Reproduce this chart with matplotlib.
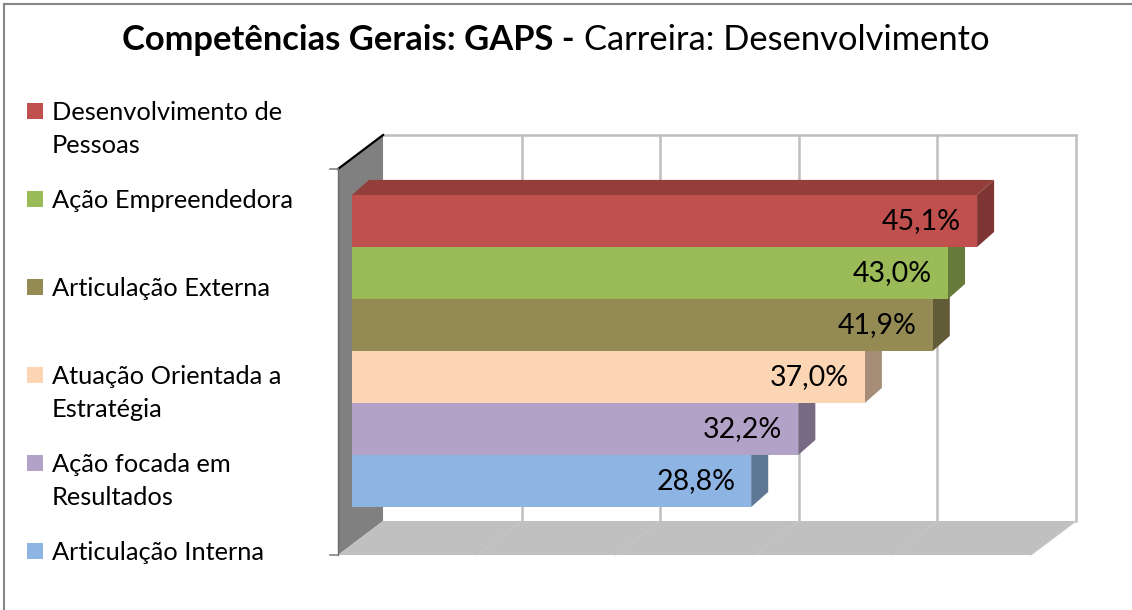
#!/usr/bin/env python3
import numpy as np
import matplotlib
matplotlib.use("Agg")
import matplotlib.pyplot as plt
from matplotlib.patches import Polygon, Rectangle
from matplotlib.colors import to_rgb

# data (legend order, top to bottom)
labels = ["Desenvolvimento de\nPessoas", "Ação Empreendedora", "Articulação Externa",
          "Atuação Orientada a\nEstratégia", "Ação focada em\nResultados", "Articulação Interna"]
values = [45.1, 43.0, 41.9, 37.0, 32.2, 28.8]
colors = ["#C0504D", "#9BBB59", "#948A54", "#FCD5B5", "#B3A2C7", "#8DB4E2"]
xmax = 50
xstep = 10

W, H = 1132, 610
plt.rcParams['font.family'] = ['Lato', 'DejaVu Sans']

fig = plt.figure(figsize=(W / 100, H / 100), dpi=100)
ax = fig.add_axes([0, 0, 1, 1])
# 1 x-unit = 1 % (13.86 px), 1 y-unit = one bar (52 px)
ax.set_xlim(-352 / 13.86, (W - 352) / 13.86)
ax.set_ylim(-(H - 507) / 52, 507 / 52)
ax.set_axis_off()

# box geometry (data units)
off0 = -1.01          # front plane offset of value 0
Dx, Dy = 3.25, 0.654  # full depth of the box
fb, ft = -0.923, 6.5  # front bottom / front top of the walls
bdx, bdy = 1.23, 0.29 # bar depth


def shade(c, f):
    return tuple(np.array(to_rgb(c)) * f)


# left wall
ax.add_patch(Polygon([(off0, fb), (off0, ft), (off0 + Dx, ft + Dy), (off0 + Dx, fb + Dy)],
                     closed=True, fc="#808080", ec="none", zorder=1))
ax.plot([off0, off0 + Dx], [ft, ft + Dy], color="black", lw=1.6, zorder=1.2)
ax.plot([off0, off0], [fb, ft], color="#6b6b6b", lw=1, zorder=1.2)
for yy in (fb, ft):
    ax.plot([off0 - 0.6, off0], [yy, yy], color="#868686", lw=1.2, zorder=1.2)

# floor
ax.add_patch(Polygon([(off0, fb), (off0 + Dx, fb + Dy), (xmax + off0 + Dx, fb + Dy), (xmax + off0, fb)],
                     closed=True, fc="#C0C0C0", ec="none", zorder=1))

# back wall gridlines
for v in np.arange(xstep, xmax + 1, xstep):
    ax.plot([v + off0 + Dx] * 2, [fb + Dy, ft + Dy], color="#BFBFBF", lw=1.8, zorder=0.8)
    ax.plot([v + off0 + Dx, v + off0], [fb + Dy, fb], color="#C6C6C6", lw=0.8, zorder=1.1)
ax.plot([off0 + Dx, xmax + off0 + Dx], [ft + Dy, ft + Dy], color="#BFBFBF", lw=1.8, zorder=0.8)

# bars, drawn from the bottom up
n = len(values)
for k in range(n):
    j = n - 1 - k      # index in legend order
    v, c = values[j], colors[j]
    y0, y1 = k, k + 1
    z = 3 + 2 * k
    ax.add_patch(Polygon([(0, y1), (v, y1), (v + bdx, y1 + bdy), (bdx, y1 + bdy)],
                         closed=True, fc=shade(c, 0.77), ec="none", zorder=z))
    ax.add_patch(Polygon([(v, y0), (v, y1), (v + bdx, y1 + bdy), (v + bdx, y0 + bdy)],
                         closed=True, fc=shade(c, 0.66), ec="none", zorder=z))
    ax.barh(k + 0.5, v, height=1, left=0, color=c, zorder=z + 1)
    ax.text(v - 1.15, k + 0.5, f"{v:.1f}%".replace(".", ","), ha="right", va="center",
            fontsize=20.5, color="black", zorder=50)

# legend
for i, (lab, c) in enumerate(zip(labels, colors)):
    base = 120 + 88 * i
    fig.patches.append(Rectangle((27 / W, 1 - (base - 1) / H), 16 / W, 16 / H,
                                 transform=fig.transFigure, fc=c, ec="none"))
    lines = lab.split("\n")
    for li, t in enumerate(lines):
        fig.text(52 / W, 1 - (base + 33 * li) / H, t, fontsize=18.3, va="baseline", ha="left")

# title: bold part + regular part
t1 = fig.text(122 / W, 1 - 50 / H, "Competências Gerais: GAPS -", fontsize=24.8,
              fontweight="bold", va="baseline", ha="left")
fig.canvas.draw()
bb = t1.get_window_extent()
fig.text((bb.x1 + 9) / W, 1 - 50 / H, "Carreira: Desenvolvimento", fontsize=24.8,
         va="baseline", ha="left")

# chart border (top and left edges visible)
fig.add_artist(plt.Line2D([4 / W, 4 / W], [0, 1 - 4 / H], transform=fig.transFigure,
                          color="#868686", lw=1.5))
fig.add_artist(plt.Line2D([4 / W, 1], [1 - 4 / H, 1 - 4 / H], transform=fig.transFigure,
                          color="#868686", lw=1.5))

fig.savefig("out.png", dpi=100)
